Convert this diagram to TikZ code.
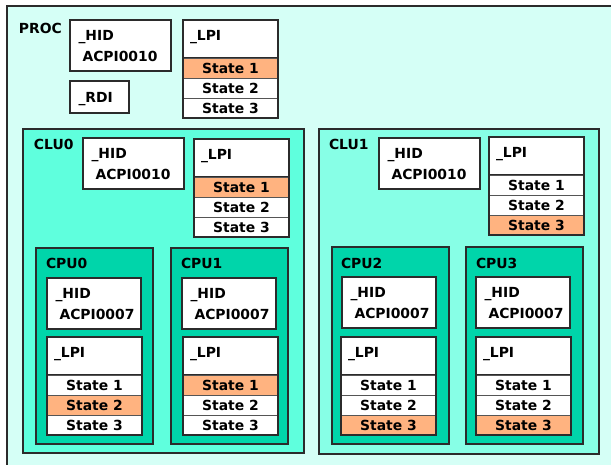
\documentclass[tikz,border=0pt]{standalone}
\usepackage{fontspec}
\setmainfont{DejaVu Sans}
\definecolor{procbg}{HTML}{D5FFF6}
\definecolor{clu0bg}{HTML}{5FFFDD}
\definecolor{clu1bg}{HTML}{87FFE6}
\definecolor{cpubg}{HTML}{00D5AA}
\definecolor{hot}{HTML}{FFB380}
\definecolor{edge}{HTML}{2B2B2B}
\tikzset{
  every node/.style={font=\fontsize{13.9}{16}\selectfont\bfseries, outer sep=0pt},
  frame/.style={draw=edge, line width=1.1pt, anchor=north west, inner sep=0pt},
  whitebox/.style={frame, fill=white},
  rowbox/.style={draw=edge!80, line width=0.9pt, anchor=north west, inner sep=0pt, minimum height=20pt},
  lbl/.style={anchor=base west, inner sep=0pt},
}
\newcommand{\hidbox}[5]{%
  \node[whitebox, minimum width=#4, minimum height=51] (#1) at (#2,#3) {};
  \node[lbl] (#1-t) at ([xshift=8.5pt,yshift=-20pt]#1.north west) {\_HID};
  \node[lbl] (#1-v) at ([xshift=12.5pt,yshift=-41pt]#1.north west) {#5};
}
\newcommand{\lpibox}[7]{%
  \node[whitebox, minimum width=#4, minimum height=38] (#1) at (#2,#3) {};
  \node[lbl] (#1-t) at ([xshift=7pt,yshift=-20pt]#1.north west) {\_LPI};
  \node[rowbox, fill=#5, minimum width=#4] (#1-s1) at (#1.south west) {State 1};
  \node[rowbox, fill=#6, minimum width=#4] (#1-s2) at (#1-s1.south west) {State 2};
  \node[rowbox, fill=#7, minimum width=#4] (#1-s3) at (#1-s2.south west) {State 3};
  \draw[edge, line width=1.1pt] (#1.north west) rectangle (#1-s3.south east);
}
\begin{document}
\begin{tikzpicture}[x=1pt,y=-1pt]
\useasboundingbox (0,0) rectangle (611,464);
\clip (0,0) rectangle (611,464);
% PROC
\node[frame, fill=procbg, minimum width=620, minimum height=480] (proc) at (7,6) {};
\node[lbl] (proc-t) at (19,33) {PROC};
\hidbox{p-hid}{70}{20}{101}{ACPI0010}
\node[whitebox, minimum width=59, minimum height=32] (p-rdi) at (70,81) {};
\node[lbl] (p-rdi-t) at ([xshift=8.5pt,yshift=-21pt]p-rdi.north west) {\_RDI};
\lpibox{p-lpi}{183}{20}{95}{hot}{white}{white}
% CLU0
\node[frame, fill=clu0bg, minimum width=281, minimum height=324] (clu0) at (23,129) {};
\node[lbl] (clu0-t) at (34,149) {CLU0};
\hidbox{c0-hid}{83}{138}{101}{ACPI0010}
\lpibox{c0-lpi}{194}{139}{95}{hot}{white}{white}
% CPU0
\node[frame, fill=cpubg, minimum width=117, minimum height=196] (cpu0) at (36,248) {};
\node[lbl] (cpu0-t) at (46,268) {CPU0};
\hidbox{cpu0-hid}{47}{278}{94}{ACPI0007}
\lpibox{cpu0-lpi}{47}{337}{95}{white}{hot}{white}
% CPU1
\node[frame, fill=cpubg, minimum width=117, minimum height=196] (cpu1) at (171,248) {};
\node[lbl] (cpu1-t) at (181,268) {CPU1};
\hidbox{cpu1-hid}{182}{278}{94}{ACPI0007}
\lpibox{cpu1-lpi}{183}{337}{95}{hot}{white}{white}
% CLU1
\node[frame, fill=clu1bg, minimum width=280, minimum height=325] (clu1) at (319,129) {};
\node[lbl] (clu1-t) at (329,149) {CLU1};
\hidbox{c1-hid}{379}{138}{101}{ACPI0010}
\lpibox{c1-lpi}{489}{137}{95}{white}{white}{hot}
% CPU2
\node[frame, fill=cpubg, minimum width=117, minimum height=197] (cpu2) at (332,247) {};
\node[lbl] (cpu2-t) at (341,268) {CPU2};
\hidbox{cpu2-hid}{342}{277}{94}{ACPI0007}
\lpibox{cpu2-lpi}{341}{337}{95}{white}{white}{hot}
% CPU3
\node[frame, fill=cpubg, minimum width=117, minimum height=197] (cpu3) at (466,247) {};
\node[lbl] (cpu3-t) at (476,268) {CPU3};
\hidbox{cpu3-hid}{476}{277}{94}{ACPI0007}
\lpibox{cpu3-lpi}{476}{337}{95}{white}{white}{hot}
\end{tikzpicture}
\end{document}
